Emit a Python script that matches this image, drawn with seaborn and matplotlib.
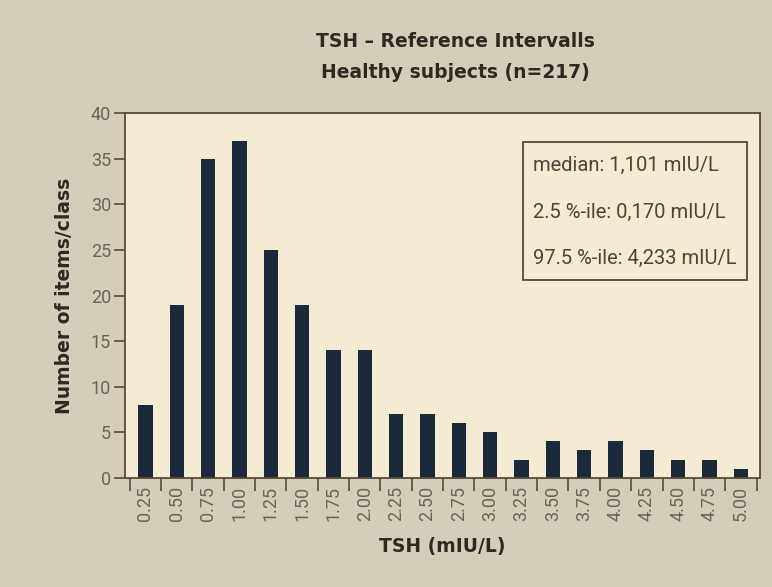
import matplotlib
matplotlib.use("Agg")
import matplotlib.pyplot as plt
import seaborn as sns
import pandas as pd
import numpy as np

# TSH classes (upper bound of each 0.25 bin) and counts per class
tsh_class = ["0.25", "0.50", "0.75", "1.00", "1.25", "1.50", "1.75", "2.00", "2.25", "2.50",
             "2.75", "3.00", "3.25", "3.50", "3.75", "4.00", "4.25", "4.50", "4.75", "5.00"]
counts = [8, 19, 35, 37, 25, 19, 14, 14, 7, 7, 6, 5, 2, 4, 3, 4, 3, 2, 2, 1]

stats_lines = ["median: 1,101 mIU/L", "2.5 %-ile: 0,170 mIU/L", "97.5 %-ile: 4,233 mIU/L"]

df = pd.DataFrame({"tsh": tsh_class, "n": counts})

sns.set_style("ticks")
plt.rcParams['font.family'] = ['Roboto', 'DejaVu Sans']

outer_bg = "#d3cdb9"
inner_bg = "#f4ebd2"
bar_col = "#1b2a3b"
txt_col = "#4a4538"
spine_col = "#5a4a35"
head = ['DejaVu Sans']

fig = plt.figure(figsize=(7.72, 5.87), dpi=100, facecolor=outer_bg)
ax = fig.add_axes([0.162, 0.186, 0.822, 0.621])
ax.set_facecolor(inner_bg)

sns.barplot(data=df, x="tsh", y="n", color=bar_col, width=0.46, ax=ax,
            saturation=1, linewidth=0)

ax.set_ylim(0, 40)
ax.set_yticks(range(0, 41, 5))
ax.set_xlim(-0.65, 19.6)

# labels at bar centres, tick marks between the classes
ax.set_xticks(range(len(tsh_class)))
ax.set_xticklabels(tsh_class, rotation=90)
ax.tick_params(axis="x", which="major", length=0, pad=6)
ax.set_xticks(np.arange(-0.5, len(tsh_class), 1.0), minor=True)
ax.tick_params(axis="x", which="minor", length=9, width=1.2, color=spine_col)
ax.tick_params(axis="y", length=8, width=1.2, color=spine_col, pad=2)
ax.tick_params(labelsize=13, labelcolor="#6b6456")

for s in ax.spines.values():
    s.set_visible(True)
    s.set_color(spine_col)
    s.set_linewidth(1.3)

ax.set_xlabel("TSH (mIU/L)", fontsize=13.5, fontweight="bold", color="#2e2a22",
              family=head, labelpad=11)
ax.set_ylabel("Number of items/class", fontsize=13.5, fontweight="bold", color="#2e2a22",
              family=head, labelpad=12)

fig.text(0.59, 0.93, "TSH \u2013 Reference Intervalls", ha="center", va="center",
         fontsize=13.5, fontweight="bold", color="#2e2a22", family=head)
fig.text(0.59, 0.877, "Healthy subjects (n=217)", ha="center", va="center",
         fontsize=13.5, fontweight="bold", color="#2e2a22", family=head)

# statistics box
box = plt.Rectangle((0.677, 0.523), 0.29, 0.235, transform=fig.transFigure,
                    facecolor="none", edgecolor=spine_col, linewidth=1.3)
fig.patches.append(box)
for i, line in enumerate(stats_lines):
    fig.text(0.69, 0.718 - i * 0.079, line, ha="left", va="center", fontsize=14.5,
             color=txt_col)

plt.savefig("out.png", dpi=100, facecolor=outer_bg)
